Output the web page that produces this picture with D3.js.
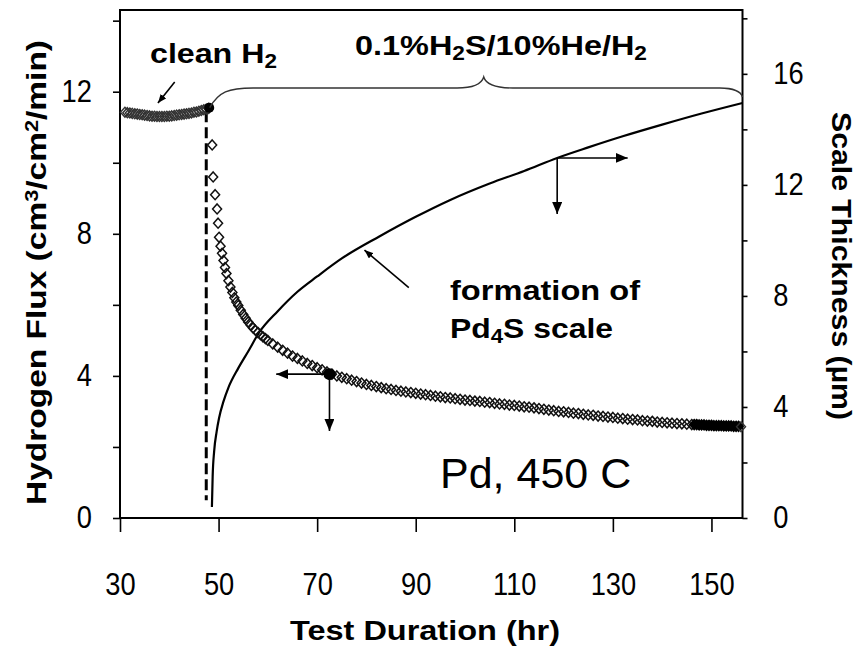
<!DOCTYPE html>
<html>
<head>
<meta charset="utf-8">
<script src="https://cdn.jsdelivr.net/npm/d3@7"></script>
<style>
  body { margin: 0; background: #fff; }
  text { font-family: Arial, "Liberation Sans", sans-serif; fill: #000; }
</style>
</head>
<body>
<svg id="chart" width="859" height="647"></svg>
<script>
// flux in clean H2, before the switch (hr, cm3/cm2/min)
const cleanHr = d3.range(31, 48.01, 0.5);
const cleanFlux = [11.42, 11.41, 11.40, 11.39, 11.38, 11.37, 11.36, 11.35, 11.34, 11.33,
  11.32, 11.31, 11.31, 11.30, 11.30, 11.30, 11.30, 11.31, 11.31, 11.32,
  11.33, 11.34, 11.35, 11.36, 11.37, 11.38, 11.39, 11.40, 11.42, 11.43,
  11.45, 11.47, 11.49, 11.51, 11.53];

// flux under 0.1% H2S
const sulfHr = [48.7, 48.9, 49.3, 49.7, 49.9, 50.1, 50.4, 50.7, 51.0, 51.3, 51.6, 52.0,
  52.4, 52.8, 53.2, 53.6, 54.0, 54.5, 55, 55.5, 56, 56.5, 57, 57.5, 58, 58.5, 59, 59.5, 60]
  .concat(d3.range(61, 147));
const sulfFlux = [10.5, 9.6, 9.1, 8.7, 8.3, 7.9, 7.65, 7.45, 7.25, 7.05, 6.88, 6.68,
  6.5, 6.35, 6.2, 6.08, 5.98, 5.85, 5.73, 5.62, 5.52, 5.43, 5.35, 5.28, 5.22, 5.16, 5.1, 5.05, 5.0,
  4.9, 4.81, 4.72, 4.64, 4.56, 4.49, 4.42, 4.35, 4.29, 4.23,
  4.17, 4.11, 4.05, 4.0, 3.96, 3.92, 3.88, 3.84, 3.8, 3.76,
  3.73, 3.7, 3.67, 3.64, 3.62, 3.59, 3.57, 3.55, 3.53, 3.51,
  3.49, 3.47, 3.45, 3.43, 3.41, 3.39, 3.38, 3.36, 3.34, 3.32,
  3.31, 3.29, 3.28, 3.26, 3.25, 3.23, 3.21, 3.2, 3.18, 3.17,
  3.15, 3.13, 3.12, 3.1, 3.08, 3.06, 3.04, 3.02, 3.0, 2.99,
  2.97, 2.95, 2.94, 2.92, 2.9, 2.89, 2.87, 2.86, 2.84, 2.83,
  2.81, 2.8, 2.78, 2.77, 2.76, 2.74, 2.73, 2.72, 2.7, 2.69,
  2.68, 2.67, 2.66, 2.65, 2.64, 2.63];

// last hours, sampled densely (solid black in the figure)
const tailHr = d3.range(146.5, 155.51, 0.5);
const tailFlux = [2.63, 2.63, 2.62, 2.62, 2.62, 2.61, 2.61, 2.61, 2.6, 2.6,
  2.6, 2.6, 2.59, 2.59, 2.59, 2.59, 2.58, 2.58, 2.58];
const endHr = [156.0];
const endFlux = [2.57];

// Pd4S scale thickness (um)
const thickHr = [48.65, 48.8, 49.1, 49.6, 50.1, 51, 52, 54, 56, 58.3, 62, 66, 70, 75, 82.7,
  90, 96.9, 105, 112, 118.7, 125, 132, 140, 148, 156.3];
const thickUm = [0.4, 1.5, 2.4, 3.1, 3.6, 4.2, 4.7, 5.4, 6.0, 6.7, 7.45, 8.15, 8.7, 9.35, 10.15,
  10.85, 11.45, 12.05, 12.5, 12.97, 13.35, 13.75, 14.17, 14.57, 14.95];

const xTicks = [30, 50, 70, 90, 110, 130, 150];
const leftTicks = [0, 2, 4, 6, 8, 10, 12, 14];
const rightTicks = [0, 2, 4, 6, 8, 10, 12, 14, 16, 18];

const svg = d3.select("#chart");
svg.append("rect").attr("width", 859).attr("height", 647).attr("fill", "#fff");

const x = d3.scaleLinear([30, 156.3], [120, 742.5]);
const yL = d3.scaleLinear([0, 14.3], [518, 10]);
const yR = d3.scaleLinear([0, 18.3], [518, 10]);

const defs = svg.append("defs");
defs.append("marker").attr("id", "head")
  .attr("viewBox", "0 0 12 10").attr("refX", 12).attr("refY", 5)
  .attr("markerWidth", 12).attr("markerHeight", 10)
  .attr("markerUnits", "userSpaceOnUse").attr("orient", "auto")
  .append("path").attr("d", "M0,0L12,5L0,10Z").attr("fill", "#000");
defs.append("marker").attr("id", "headSmall")
  .attr("viewBox", "0 0 10 8").attr("refX", 10).attr("refY", 4)
  .attr("markerWidth", 9).attr("markerHeight", 7)
  .attr("markerUnits", "userSpaceOnUse").attr("orient", "auto")
  .append("path").attr("d", "M0,0L10,4L0,8Z").attr("fill", "#000");

// axes (labels a little taller and narrower, like the original)
const gx = svg.append("g").attr("transform", "translate(0,518)")
  .call(d3.axisBottom(x).tickValues(xTicks).tickSize(14).tickPadding(41).tickFormat(d3.format("d")));
const gl = svg.append("g").attr("transform", "translate(120,0)")
  .call(d3.axisLeft(yL).tickValues(leftTicks).tickSize(7).tickPadding(25)
    .tickFormat(d => d % 4 === 0 ? d : ""));
const gr = svg.append("g").attr("transform", "translate(742.5,0)")
  .call(d3.axisRight(yR).tickValues(rightTicks).tickSize(5).tickPadding(30)
    .tickFormat(d => d % 4 === 0 && d <= 16 ? d : ""));
[gx, gl, gr].forEach(g => {
  g.select(".domain").remove();
  g.selectAll(".tick line").attr("stroke", "#000").attr("stroke-width", 1.6);
  g.selectAll(".tick text").attr("font-size", 31)
    .attr("font-family", "Arial, 'Liberation Sans', sans-serif")
    .attr("transform", "scale(0.88,1)");
});

svg.append("rect").attr("x", 120).attr("y", 10).attr("width", 622.5).attr("height", 508)
  .attr("fill", "none").attr("stroke", "#000").attr("stroke-width", 2);

// dashed switch line
svg.append("line")
  .attr("x1", x(47.5)).attr("x2", x(47.5)).attr("y1", yL(11.45)).attr("y2", yL(0.5))
  .attr("stroke", "#000").attr("stroke-width", 3).attr("stroke-dasharray", "11,5");

// thickness curve
svg.append("path")
  .datum(thickHr.map((h, i) => [h, thickUm[i]]))
  .attr("fill", "none").attr("stroke", "#000").attr("stroke-width", 2.2)
  .attr("d", d3.line().x(d => x(d[0])).y(d => yR(d[1])).curve(d3.curveMonotoneX));

// flux markers
const diamond = "M0,-5L4.5,0L0,5L-4.5,0Z";
function markers(hrs, vals, fill, stroke, sw) {
  svg.append("g").selectAll("path").data(hrs.map((h, i) => [h, vals[i]])).join("path")
    .attr("d", diamond)
    .attr("transform", d => `translate(${x(d[0])},${yL(d[1])})`)
    .attr("fill", fill).attr("stroke", stroke).attr("stroke-width", sw);
}
markers(cleanHr, cleanFlux, "none", "#333", 1.4);
markers(sulfHr, sulfFlux, "none", "#111", 1.5);
markers(tailHr, tailFlux, "#000", "#000", 1.5);
markers(endHr, endFlux, "none", "#333", 1.4);

// highlighted points
[[48.1, 11.55, 5], [72.5, 4.05, 6]].forEach(p => {
  svg.append("circle").attr("cx", x(p[0])).attr("cy", yL(p[1])).attr("r", p[2]).attr("fill", "#000");
});

// brace over the H2S period
const by = 88;
const brace = d3.path();
brace.moveTo(x(48.2), yL(11.55));
brace.bezierCurveTo(x(50), 92, x(52), by, x(57), by);
brace.lineTo(x(98.4), by);
brace.bezierCurveTo(x(101.5), by, x(103.3), 85, x(103.8), 77);
brace.bezierCurveTo(x(104.3), 85, x(106.3), by, x(109.7), by);
brace.lineTo(x(151.7), by);
brace.bezierCurveTo(x(154.5), by, x(156), 92, x(156.3), 97);
svg.append("path").attr("d", brace.toString()).attr("fill", "none")
  .attr("stroke", "#333").attr("stroke-width", 1.4);

// arrows
function arrow(x1, y1, x2, y2, head) {
  svg.append("line").attr("x1", x1).attr("y1", y1).attr("x2", x2).attr("y2", y2)
    .attr("stroke", "#000").attr("stroke-width", 1.6).attr("marker-end", `url(#${head})`);
}
arrow(x(72.5), yL(4.05), x(61.7), yL(4.05), "head");
arrow(x(72.5), yL(4.05), x(72.5), yL(2.45), "head");
arrow(x(118.7), yR(12.97), x(133), yR(12.97), "head");
arrow(x(118.7), yR(12.97), x(118.7), yR(10.95), "head");
arrow(x(88.6), yR(8.3), x(79.6), yR(9.65), "headSmall");
arrow(x(41.1), yL(12.27), x(37.7), yL(11.68), "headSmall");

// texts
function rich(parts, attrs) {
  const t = svg.append("text");
  Object.entries(attrs).forEach(([k, v]) => t.attr(k, v));
  parts.forEach(p => {
    const s = t.append("tspan").text(p[0]);
    if (p[1] === "sub") s.attr("font-size", "70%").attr("baseline-shift", "-25%");
    if (p[1] === "sup") s.attr("font-size", "65%").attr("baseline-shift", "45%");
  });
  return t;
}
const bold = { "font-weight": "bold", "font-size": 28, "lengthAdjust": "spacingAndGlyphs" };

rich([["clean H"], ["2", "sub"]], { ...bold, x: 150, y: 63, textLength: 127 });
rich([["0.1%H"], ["2", "sub"], ["S/10%He/H"], ["2", "sub"]], { ...bold, x: 355, y: 55, textLength: 292 });
rich([["formation of"]], { ...bold, x: 450, y: 300, textLength: 190 });
rich([["Pd"], ["4", "sub"], ["S scale"]], { ...bold, x: 450, y: 338, textLength: 163 });
rich([["Pd, 450 C"]], { x: 440, y: 488, "font-size": 43 });
rich([["Test Duration (hr)"]], { ...bold, x: 290, y: 640, textLength: 270 });
rich([["Hydrogen Flux (cm"], ["3", "sup"], ["/cm"], ["2", "sup"], ["/min)"]],
  { ...bold, transform: "translate(46,505) rotate(-90)", textLength: 465 });
rich([["Scale Thickness (µm)"]],
  { ...bold, "font-size": 27, transform: "translate(832,112) rotate(90)", textLength: 308 });
</script>
</body>
</html>
